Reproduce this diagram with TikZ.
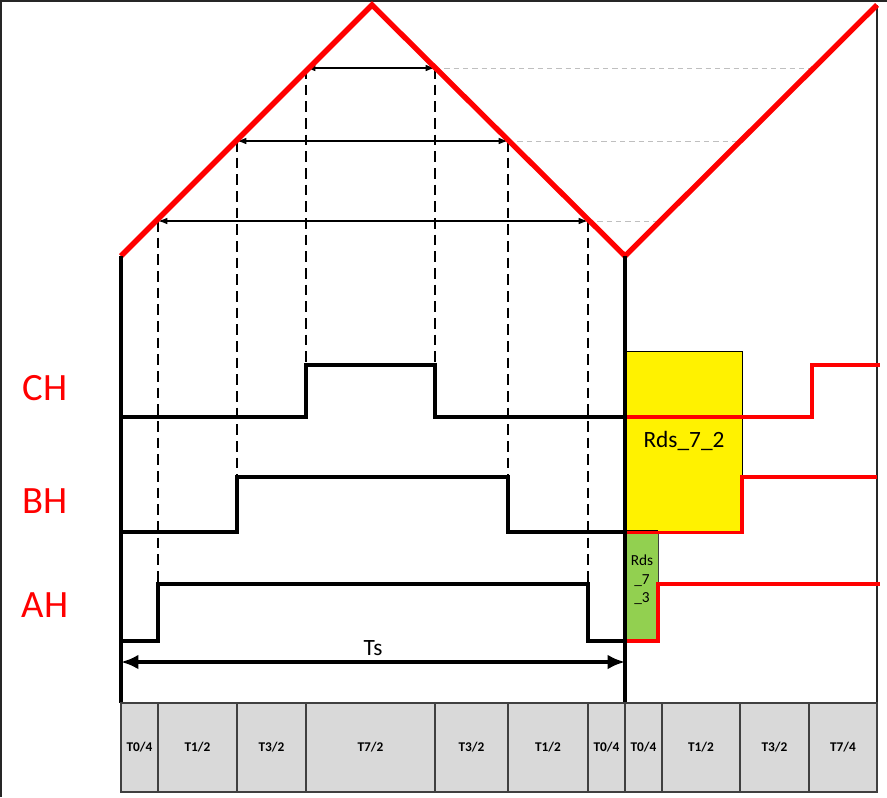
\documentclass[tikz,border=0pt]{standalone}
\usepackage{fontspec}
\setmainfont{Carlito}
\usetikzlibrary{arrows.meta}
\definecolor{frm}{HTML}{262626}
\definecolor{cellgray}{HTML}{D9D9D9}
\definecolor{celledge}{HTML}{404040}
\definecolor{guide}{HTML}{BFBFBF}
\definecolor{rdsgreen}{HTML}{92D050}
\definecolor{sigred}{HTML}{FF0000}
\newcommand\tcellbox[4]{%
  \path[cellfill] (#2,703) rectangle (#3,792);
  \node[celltext] (#1) at ({(#2+#3)/2},747.5) {#4};}
\begin{document}
\begin{tikzpicture}[x=0.75pt,y=-0.75pt,
  frame/.style={draw=frm,line width=1.3pt},
  carrier/.style={draw=sigred,line width=4pt,line join=miter},
  wave/.style={draw=black,line width=2.6pt,line join=miter},
  redwave/.style={draw=sigred,line width=2.5pt,line join=miter},
  edgeline/.style={draw=black,line width=2.8pt},
  dashv/.style={draw=black,line width=1.6pt,dash pattern=on 8pt off 4.5pt},
  guideline/.style={draw=guide,line width=0.7pt,dash pattern=on 4pt off 3pt},
  levelarrow/.style={draw=black,line width=1pt,{Latex[length=7pt,width=5pt]}-{Latex[length=7pt,width=5pt]}},
  tsarrow/.style={draw=black,line width=2.6pt,{Latex[length=13pt,width=11pt]}-{Latex[length=13pt,width=11pt]}},
  chlabel/.style={text=sigred,font=\fontsize{29pt}{31pt}\selectfont,inner sep=0pt},
  cellfill/.style={fill=cellgray,draw=celledge,line width=1.3pt},
  celltext/.style={font=\bfseries\fontsize{10pt}{12pt}\selectfont,inner sep=0pt},
  yellowbox/.style={fill=yellow,draw=black,line width=0.6pt},
  greenbox/.style={fill=rdsgreen,draw=celledge,line width=0.5pt},
  bigtext/.style={font=\fontsize{17.5pt}{19pt}\selectfont,inner sep=0pt},
  smalltext/.style={font=\fontsize{11.5pt}{14pt}\selectfont,inner sep=0pt,align=center}
]
\useasboundingbox (0,0) rectangle (887,797);
\fill[white] (0,0) rectangle (887,797);

% frame
\draw[frame] (1,797) -- (1,1) -- (887,1);
\draw[frame] (877,5) -- (877,703);

% guide lines
\draw[guideline] (435,68) -- (813,68);
\draw[guideline] (508,141) -- (740,141);
\draw[guideline] (588,221) -- (660,221);

% boxes on the right
\node[yellowbox,minimum width=87.75pt,minimum height=135.75pt,inner sep=0pt] (rds72box) at (683.5,441.5) {};
\node[bigtext] (rds72) at (684,441) {Rds\_7\_2};
\node[greenbox,minimum width=24.75pt,minimum height=81.75pt,inner sep=0pt] (rds73box) at (641.5,586.5) {};
\node[smalltext] (rds73) at (642,580) {Rds\\\_7\\\_3};

% dashed verticals
\draw[dashv] (158,221) -- (158,584);
\draw[dashv] (237,141) -- (237,477);
\draw[dashv] (306,68) -- (306,365);
\draw[dashv] (435,68) -- (435,365);
\draw[dashv] (508,141) -- (508,477);
\draw[dashv] (588,221) -- (588,584);

% level arrows
\draw[levelarrow] (306,68) -- (435,68);
\draw[levelarrow] (237,141) -- (508,141);
\draw[levelarrow] (158,221) -- (588,221);

% black waveforms
\draw[wave] (121,417) -- (306,417) -- (306,365) -- (435,365) -- (435,417) -- (625,417);
\draw[wave] (121,532) -- (237,532) -- (237,477) -- (508,477) -- (508,532) -- (658,532);
\draw[wave] (121,641) -- (158,641) -- (158,584) -- (588,584) -- (588,641) -- (625,641);

% red waveforms
\draw[redwave] (625,417) -- (812,417) -- (812,365) -- (880,365);
\draw[redwave] (625,532.5) -- (742,532.5) -- (742,477) -- (877,477);
\draw[redwave] (625,641) -- (658,641) -- (658,584) -- (880,584);

% carrier
\draw[carrier] (121,256) -- (372,5) -- (625,256) -- (877,5);

% edge verticals
\draw[edgeline] (121,256) -- (121,703);
\draw[edgeline] (625,256) -- (625,703);

% Ts
\coordinate (tsl) at (121,662);
\coordinate (tsr) at (625,662);
\draw[tsarrow] (tsl) -- (tsr);
\node[bigtext] (ts) at (373,648) {Ts};

% channel labels
\node[chlabel] (ch) at (45,388) {CH};
\node[chlabel] (bh) at (45,501) {BH};
\node[chlabel] (ah) at (45,605) {AH};

% table
\tcellbox{c1}{121}{158}{T0/4}
\tcellbox{c2}{158}{237}{T1/2}
\tcellbox{c3}{237}{306}{T3/2}
\tcellbox{c4}{306}{435}{T7/2}
\tcellbox{c5}{435}{508}{T3/2}
\tcellbox{c6}{508}{588}{T1/2}
\tcellbox{c7}{588}{625}{T0/4}
\tcellbox{c8}{625}{662}{T0/4}
\tcellbox{c9}{662}{740}{T1/2}
\tcellbox{c10}{740}{809}{T3/2}
\tcellbox{c11}{809}{877}{T7/4}
\end{tikzpicture}
\end{document}
